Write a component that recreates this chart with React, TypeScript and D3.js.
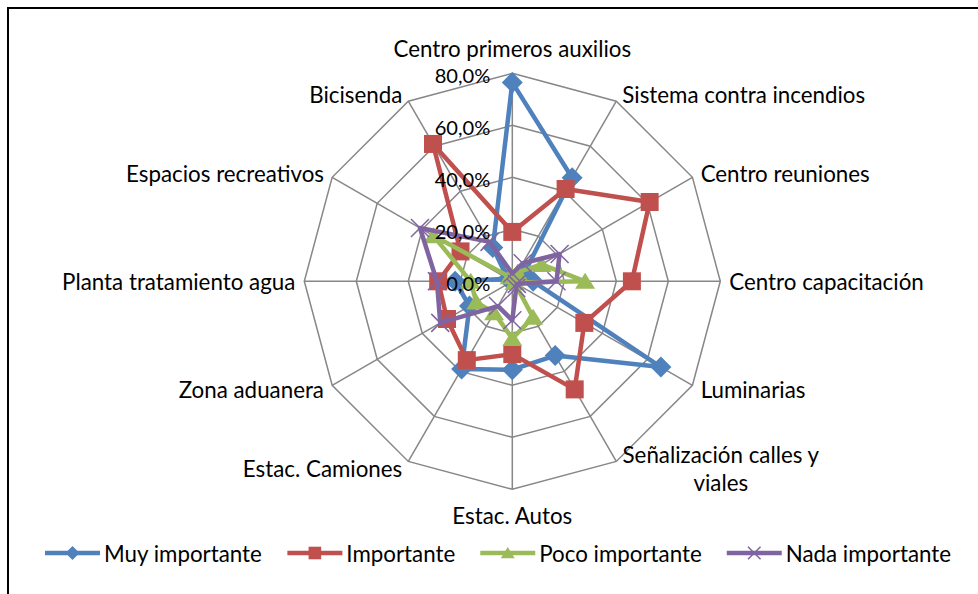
import * as d3 from "d3";

const width = 978;
const height = 594;
const cx = 512.3;
const cy = 281.3;
const outerR = 208;

const categories = [
  "Centro primeros auxilios",
  "Sistema contra incendios",
  "Centro reuniones",
  "Centro capacitación",
  "Luminarias",
  "Señalización calles y viales",
  "Estac. Autos",
  "Estac. Camiones",
  "Zona aduanera",
  "Planta tratamiento agua",
  "Espacios recreativos",
  "Bicisenda",
];

// values in %
const muyImportante = [76.5, 46, 5, 8, 66, 33, 34, 39, 19, 22, 2, 15];
const importante = [19, 41, 61, 46, 32, 48, 28, 35, 29, 28.5, 23, 61];
const pocoImportante = [2, 4, 13, 28, 1, 16, 22, 14, 16, 16, 35, 2];
const nadaImportante = [3, 8, 21, 17, 2, 3, 15, 11, 32, 29, 41, 17.5];

const seriesNames = ["Muy importante", "Importante", "Poco importante", "Nada importante"];
const seriesValues = [muyImportante, importante, pocoImportante, nadaImportante];
const seriesColors = ["#4F81BD", "#C0504D", "#9BBB59", "#8064A2"];
const seriesMarkers = ["diamond", "square", "triangle", "x"];

const tickValues = [0, 20, 40, 60, 80];

const fontFamily = "Lato, sans-serif";

const rScale = d3.scaleLinear().domain([0, 80]).range([0, outerR]);
const angleScale = d3.scaleLinear().domain([0, categories.length]).range([0, 2 * Math.PI]);
const fmt = (v: number) => d3.format(".1f")(v).replace(".", ",") + "%";

let ctx: CanvasRenderingContext2D | null = null;
const measure = (text: string, size: number) => {
  if (!ctx) ctx = document.createElement("canvas").getContext("2d");
  ctx!.font = `${size}px ${fontFamily}`;
  return ctx!.measureText(text).width;
};

// fit the font so the labels are as wide as in the original
const labelSize = (24 * 243) / measure("Sistema contra incendios", 24);
const tickSize = labelSize * 0.9;

const wrap = (s: string) => {
  if (s.length <= 24) return [s];
  const cut = s.lastIndexOf(" ", 22);
  return [s.slice(0, cut), s.slice(cut + 1)];
};

const Marker = ({ type, x, y, color, s }: any) => {
  if (type === "diamond")
    return <path d={`M${x},${y - s}L${x + s},${y}L${x},${y + s}L${x - s},${y}Z`} fill={color} />;
  if (type === "square")
    return <rect x={x - s * 0.9} y={y - s * 0.9} width={s * 1.8} height={s * 1.8} fill={color} />;
  if (type === "triangle")
    return <path d={`M${x},${y - s * 0.85}L${x + s},${y + s * 0.75}L${x - s},${y + s * 0.75}Z`} fill={color} />;
  return (
    <path
      d={`M${x - s * 0.9},${y - s * 0.9}L${x + s * 0.9},${y + s * 0.9}M${x + s * 0.9},${y - s * 0.9}L${x - s * 0.9},${y + s * 0.9}`}
      stroke={color}
      strokeWidth={1.5}
    />
  );
};

const App = () => {
  const n = categories.length;
  const pt = (i: number, v: number) => {
    const a = angleScale(i);
    return [cx + rScale(v) * Math.sin(a), cy - rScale(v) * Math.cos(a)];
  };
  const radial = d3
    .lineRadial<number>()
    .angle((_, i) => angleScale(i))
    .radius((d) => rScale(d))
    .curve(d3.curveLinearClosed);

  const legendItems: { x: number; name: string; i: number }[] = [];
  let lx = 45;
  seriesNames.forEach((name, i) => {
    legendItems.push({ x: lx, name, i });
    lx += 55 + 4 + measure(name, labelSize) + 25;
  });

  return (
    <div style={{ position: "fixed", left: 0, top: 0 }}>
      <svg width={width} height={height} style={{ display: "block", background: "#fff" }} fontFamily={fontFamily}>
        <rect x={8} y={8} width={1200} height={800} fill="none" stroke="#000" strokeWidth={2} />

        {/* grid */}
        <g stroke="#878787" strokeWidth={1.5} fill="none">
          {tickValues.slice(1).map((t) => (
            <path key={t} d={d3.range(n).map((i) => (i ? "L" : "M") + pt(i, t).join(",")).join("") + "Z"} />
          ))}
          {d3.range(n).map((i) => {
            const [x, y] = pt(i, 80);
            return <line key={i} x1={cx} y1={cy} x2={x} y2={y} />;
          })}
        </g>

        {/* series */}
        {seriesValues.map((vals, s) => (
          <g key={s}>
            <path
              transform={`translate(${cx},${cy})`}
              d={radial(vals) || ""}
              fill="none"
              stroke={seriesColors[s]}
              strokeWidth={4.5}
              strokeLinejoin="round"
            />
            {vals.map((v, i) => {
              const [x, y] = pt(i, v);
              return <Marker key={i} type={seriesMarkers[s]} x={x} y={y} color={seriesColors[s]} s={s === 0 ? 10.5 : 10} />;
            })}
          </g>
        ))}

        {/* radial tick labels */}
        {tickValues.map((t) => (
          <text
            key={t}
            x={cx - 22}
            y={cy - rScale(t) + 1.5}
            textAnchor="end"
            dominantBaseline="central"
            fontSize={tickSize}
            fill="#000"
          >
            {fmt(t)}
          </text>
        ))}

        {/* category labels */}
        {categories.map((c, i) => {
          const a = angleScale(i);
          const [vx, vy] = pt(i, 80);
          const sin = Math.sin(a);
          const cos = Math.cos(a);
          const lines = wrap(c);
          if (Math.abs(sin) < 0.01) {
            const y = cos > 0 ? vy - 25 : vy + 26;
            return (
              <text key={i} x={vx} y={y} textAnchor="middle" dominantBaseline="central" fontSize={labelSize}>
                {c}
              </text>
            );
          }
          const x = vx + (sin > 0 ? 1 : -1) * (3 + 6 * Math.abs(sin));
          const yc = vy - 8 * cos;
          if (lines.length > 1) {
            const w = measure(lines[0], labelSize);
            const mid = sin > 0 ? x + w / 2 : x - w / 2;
            return (
              <text key={i} textAnchor="middle" dominantBaseline="central" fontSize={labelSize}>
                {lines.map((l, k) => (
                  <tspan key={k} x={mid} y={yc + (k - (lines.length - 1) / 2) * 28}>
                    {l}
                  </tspan>
                ))}
              </text>
            );
          }
          return (
            <text
              key={i}
              x={x}
              y={yc}
              textAnchor={sin > 0 ? "start" : "end"}
              dominantBaseline="central"
              fontSize={labelSize}
            >
              {c}
            </text>
          );
        })}

        {/* legend */}
        {legendItems.map(({ x, name, i }) => (
          <g key={name}>
            <line x1={x} x2={x + 55} y1={553} y2={553} stroke={seriesColors[i]} strokeWidth={4.5} />
            <Marker type={seriesMarkers[i]} x={x + 27.5} y={553} color={seriesColors[i]} s={7} />
            <text x={x + 59} y={553} dominantBaseline="central" fontSize={labelSize}>
              {name}
            </text>
          </g>
        ))}
      </svg>
    </div>
  );
};

export default App;
